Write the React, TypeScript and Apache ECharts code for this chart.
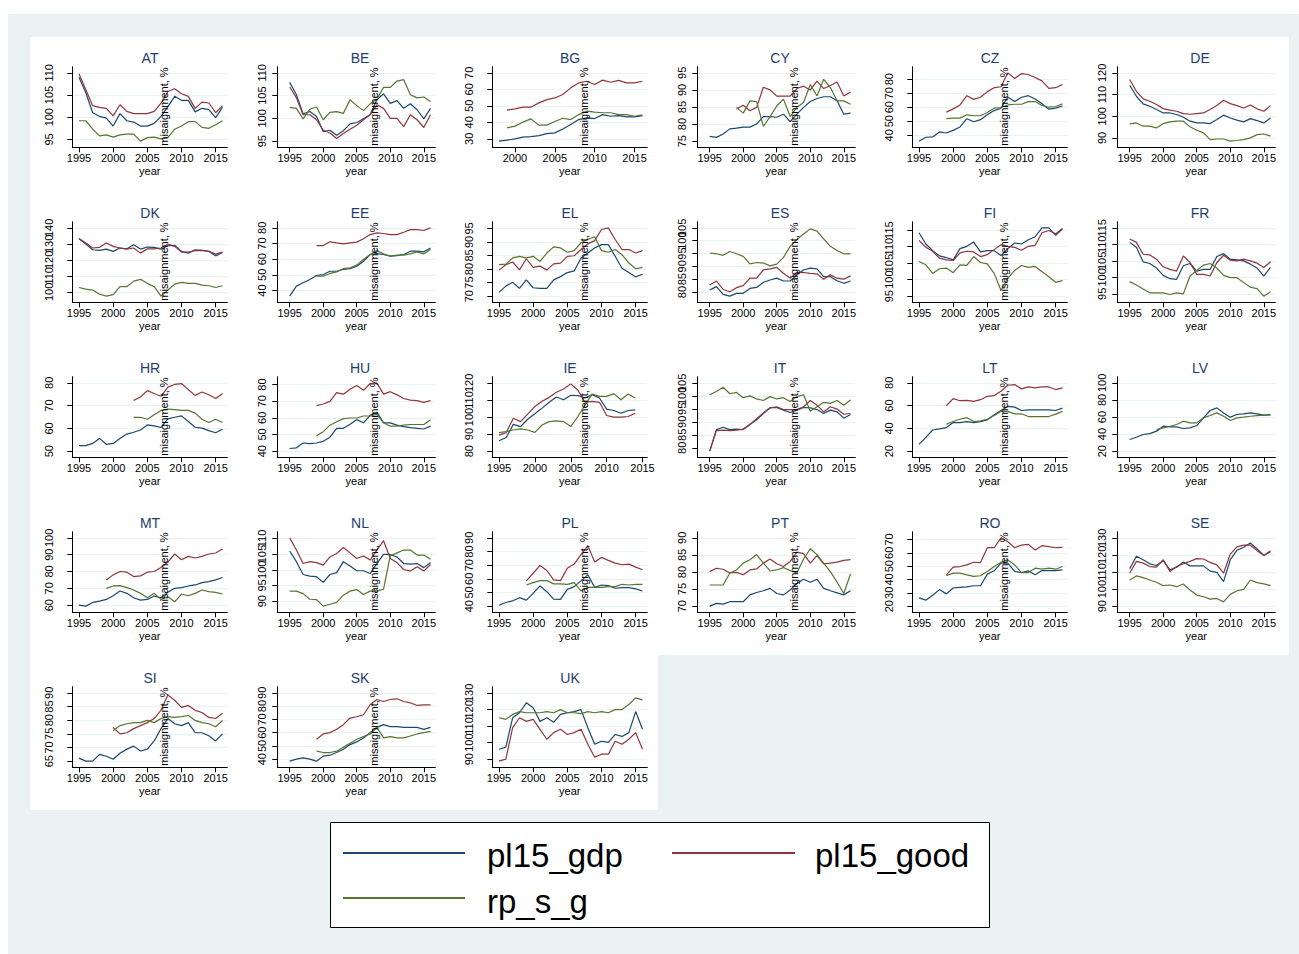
import React, { useEffect, useRef } from "react";
import * as echarts from "echarts";

const YEARS = [1995, 1996, 1997, 1998, 1999, 2000, 2001, 2002, 2003, 2004, 2005, 2006, 2007, 2008, 2009, 2010, 2011, 2012, 2013, 2014, 2015, 2016];
const X_TICKS = [1995, 2000, 2005, 2010, 2015];
const X_TICKS_BG = [2000, 2005, 2010, 2015];
const LEGEND_LABELS = ["pl15_gdp", "pl15_good", "rp_s_g"];
const MISALIGN_TEXT = "misaignment, %";
const MISALIGN_SHOWN = ["AT", "BE", "BG", "CY", "CZ", "DK", "EE", "EL", "ES", "FI", "HR", "HU", "IE", "IT", "LT", "MT", "NL", "PL", "PT", "RO", "SI", "SK"];

const AT_gdp = [109, 105.5, 101, 100.2, 99.8, 98, 100.8, 99.2, 98.9, 98, 98, 98.6, 100.2, 102.4, 104.7, 103.8, 103.8, 101.2, 102, 101.7, 99.9, 102.2];
const AT_good = [109.8, 106.2, 102.6, 102.2, 102, 100.3, 102.8, 101.3, 100.8, 100.8, 100.8, 101.3, 103.2, 105.8, 106.4, 105.3, 104.7, 102, 103.4, 103.2, 101, 102.6];
const AT_rpsg = [99.2, 99.2, 97.3, 95.8, 96, 95.5, 96, 96.2, 96.2, 94.6, 95.4, 95.5, 95.1, 95.4, 97.3, 98, 99, 99, 97.7, 97.5, 98.3, 99.2];
const AT_yt = [95, 100, 105, 110];

const BE_gdp = [107.9, 105.2, 101, 101.5, 100.4, 97.1, 97.4, 96.3, 97.3, 98.8, 99.1, 99.9, 100.8, 104.1, 105.4, 103.3, 103.9, 102.2, 103.2, 101.9, 99.9, 102.2];
const BE_good = [106.9, 104.5, 100.8, 100.8, 99.7, 97.4, 96.8, 95.6, 96.7, 97.6, 98.5, 99.7, 100.8, 103, 102.2, 100, 100, 98.2, 100.8, 99.7, 98, 100.8];
const BE_rpsg = [102.4, 102.2, 99.9, 102, 102.5, 99.7, 101.3, 101.5, 101.1, 104.1, 102.8, 101.7, 103.2, 104.2, 106.8, 106.8, 108.2, 108.5, 105.2, 104.5, 104.7, 103.7];
const BE_yt = [95, 100, 105, 110];

const BG_gdp = [null, null, null, 28.6, 29.2, 30, 31, 31.4, 32, 33.2, 33.6, 36, 38.7, 41.7, 42.7, 42.3, 44.7, 43.7, 44.1, 43.3, 43.3, 44.1];
const BG_good = [null, null, null, null, 47.4, 48.2, 49.2, 49.2, 51.8, 53.8, 54.8, 56.9, 60.9, 63.9, 64.9, 62.9, 65.6, 64.3, 65.4, 63.9, 63.9, 64.9];
const BG_rpsg = [null, null, null, null, 36.7, 37.7, 40.1, 42.1, 38.3, 38.3, 40.5, 42.5, 41.7, 44.7, 46.8, 46.2, 45.8, 45.8, 44.7, 44.7, 43.7, 44.5];
const BG_yt = [30, 40, 50, 60, 70];

const CY_gdp = [76.4, 76.1, 77.1, 78.6, 78.8, 79.1, 79.1, 80, 82.2, 82.2, 82, 82.9, 80.7, 82.9, 84.9, 86.6, 87.5, 88, 88, 86.8, 82.9, 83.2];
const CY_good = [null, null, null, null, 84.4, 85.5, 83.9, 84.9, 90.8, 90, 88.2, 88.2, 88.2, 90.4, 91.1, 90, 92.6, 90.4, 91.3, 92.3, 88.2, 89.4];
const CY_rpsg = [null, null, null, null, 84.9, 83.2, 86.8, 86.6, 79.3, 82.2, 85.3, 87.3, 82.2, 84.9, 86.3, 91.6, 88.2, 93.1, 90.7, 86.8, 86.8, 85.8];
const CY_yt = [75, 80, 85, 90, 95];

const CZ_gdp = [35.8, 38.6, 38.8, 42.4, 41.6, 43.5, 45.9, 51.8, 49.6, 51.1, 54.6, 57.6, 59.3, 67.1, 64, 67.1, 68.2, 65.9, 62.4, 58.6, 59.3, 60.9];
const CZ_good = [null, null, null, null, 56.5, 58.8, 61.6, 68.2, 65.6, 67.1, 71.1, 73.9, 74.6, 84.5, 80.5, 84, 83.3, 81.2, 78.8, 73.4, 73.9, 76.2];
const CZ_rpsg = [null, null, null, null, 51.8, 52.2, 52.2, 54.6, 53.9, 53.9, 56.2, 59.3, 59.8, 61.6, 62.1, 62.1, 64, 64, 61.2, 60, 60.5, 62.4];
const CZ_yt = [40, 50, 60, 70, 80];

const DE_gdp = [114.3, 109.2, 105.7, 104.6, 103.1, 101.5, 101.5, 100.8, 99.5, 97.7, 96.9, 96.9, 96.6, 98.5, 100.5, 99.2, 98.2, 97.4, 98.9, 98, 96.9, 99.2];
const DE_good = [116.9, 111.5, 108, 106.9, 105.4, 103.5, 102.8, 102.3, 101.2, 100.9, 101.2, 101.5, 103.1, 104.9, 107.4, 105.8, 104.9, 103.8, 105.2, 103.4, 102.3, 104.9];
const DE_rpsg = [96.5, 96.9, 95.4, 95.4, 94.6, 96.6, 97.4, 97.7, 97.7, 95.1, 93.5, 92.3, 89.2, 89.5, 89.5, 88.5, 88.8, 89.2, 90, 91.5, 91.8, 90.8];
const DE_yt = [90, 100, 110, 120];

const DK_gdp = [133.1, 129.9, 126.3, 125.9, 126.7, 125.3, 127.4, 126.9, 129.5, 126.7, 128, 127.8, 126.7, 128.8, 129.1, 125.3, 124.2, 126.3, 125.9, 125.3, 122.5, 124.6];
const DK_good = [133.3, 130.5, 127.4, 127.8, 130.5, 128.4, 127.4, 126.7, 127.4, 124.2, 126.9, 126.9, 127.4, 129.9, 128.4, 124.8, 124.8, 125.7, 125.9, 125.3, 123.6, 124.8];
const DK_rpsg = [102.7, 101.7, 101.1, 98.5, 97.3, 98.3, 103.2, 103.2, 106.7, 107.8, 105.3, 103.2, 97.3, 101.1, 104.8, 105.9, 105.3, 105.3, 104.2, 103.8, 102.7, 103.8];
const DK_yt = [100, 110, 120, 130, 140];

const EE_gdp = [36.4, 42.8, 44.9, 47, 49.6, 50.2, 52.3, 52.3, 53.4, 54, 55.5, 58.7, 63, 63.6, 63, 61.9, 62.3, 63, 65.1, 65.1, 64.7, 67.2];
const EE_good = [null, null, null, null, 68.7, 68.7, 71.1, 70.4, 69.8, 70.4, 70.9, 73, 75.7, 76.8, 76.4, 75.7, 75.7, 77.2, 78.9, 78.9, 78.3, 80];
const EE_rpsg = [null, null, null, null, 49.1, 49.1, 50.9, 51.9, 54, 54.5, 56.2, 59.8, 63, 65.5, 63.4, 61.9, 62.6, 62.6, 63.4, 64.7, 63.4, 66.2];
const EE_yt = [40, 50, 60, 70, 80];

const EL_gdp = [71.4, 73.7, 75.1, 72.9, 76, 73.1, 72.9, 72.9, 76, 77.2, 78.7, 79.3, 84.1, 85.9, 87.8, 89, 89, 84.7, 80.3, 78.7, 77.1, 78.1];
const EL_good = [79.6, 81.6, 82.6, 79.7, 83.8, 80.6, 81.1, 79.6, 81.9, 82.2, 84.7, 84.9, 87.2, 89.3, 90.5, 94.6, 95.2, 90.9, 87.2, 87.2, 85.9, 86.8];
const EL_rpsg = [81.6, 81.8, 84.1, 84.7, 84.1, 84.7, 82.8, 85.9, 88.2, 87.8, 86.2, 86.8, 89.7, 90.9, 91.9, 86.8, 86.2, 87.2, 85.3, 82.2, 80.1, 80.6];
const EL_yt = [70, 75, 80, 85, 90, 95];

const ES_gdp = [80.8, 82.1, 79.1, 78.4, 79.5, 79.5, 81.4, 81.8, 83.8, 84.7, 85.4, 84.3, 84.3, 86.7, 88.6, 89.3, 89, 86, 86, 84.4, 83.4, 84.3];
const ES_good = [82.7, 84.3, 81, 80.1, 81.7, 82.5, 85.4, 85.4, 88.6, 89, 89.6, 87.3, 85.4, 87.7, 87.6, 87.3, 87.1, 85, 86.7, 85.4, 85, 86.3];
const ES_rpsg = [95.2, 94.9, 94.3, 95.8, 94.9, 93.9, 91, 91.5, 91.3, 90.2, 90.9, 93.5, 97.8, 100.4, 102.6, 104.6, 103.7, 100.7, 97.8, 96.2, 94.9, 94.9];
const ES_yt = [80, 85, 90, 95, 100, 105];

const FI_gdp = [114.2, 110.8, 108.8, 107.2, 106.7, 106, 109.4, 110.1, 111.4, 108.4, 108.8, 108.8, 107.3, 109.4, 111.1, 110.8, 112.1, 113, 115.7, 115.7, 113.4, 115.4];
const FI_good = [111.9, 109.8, 108.6, 106.5, 106, 105.8, 108.1, 108.6, 108.4, 107, 107.6, 109.1, 110.6, 110.1, 109.8, 108.9, 110.1, 110.4, 114.2, 114.9, 113.9, 115.5];
const FI_rpsg = [105.5, 104.5, 101.9, 103.3, 103.5, 102.1, 104.5, 104.3, 107, 105.2, 104.8, 101.9, 96.8, 100.4, 102.8, 104.3, 103.7, 104, 102.4, 100.9, 99.2, 99.7];
const FI_yt = [95, 100, 105, 110, 115];

const FR_gdp = [110.6, 109.1, 104.7, 104.2, 102.8, 100.6, 99.6, 99.4, 103.5, 104.2, 101.9, 102.4, 102.4, 106.3, 107.2, 105.5, 105.3, 105, 104, 102.8, 100.4, 103];
const FR_good = [111.6, 110.6, 107, 106.8, 105.5, 103.2, 102.4, 101.9, 106.5, 104.5, 100.9, 100.9, 100.4, 104.5, 106.7, 105.2, 105, 105.5, 105, 104.3, 103, 104.7];
const FR_rpsg = [98.7, 97.7, 96.5, 95.3, 95.3, 95.3, 94.8, 95.3, 95, 100.4, 102.1, 103.7, 104.2, 102.8, 100.6, 99.9, 99.9, 98.4, 97, 96.6, 94.3, 95.6];
const FR_yt = [95, 100, 105, 110, 115];

const HR_gdp = [52.4, 52.4, 53.4, 55.6, 53, 53.4, 55.6, 57.5, 58.3, 59.3, 61.5, 61.1, 60.4, 64.2, 64.9, 65.5, 63, 60.5, 60.1, 59, 58.1, 59.6];
const HR_good = [null, null, null, null, null, null, null, null, 72.3, 73.8, 76.6, 75.3, 74.1, 78.1, 79.3, 79.7, 77, 74.5, 76, 74.8, 73.1, 75.3];
const HR_rpsg = [null, null, null, null, null, null, null, null, 64.8, 64.9, 64, 66, 67.9, 68.5, 68.2, 67.9, 67.9, 66.7, 64, 62.6, 64, 62.6];
const HR_yt = [50, 60, 70, 80];

const HU_gdp = [41.6, 42, 44.9, 44.5, 44.9, 45.9, 48.4, 53.7, 53.7, 56.2, 58.9, 57, 61.5, 63.4, 57, 57, 55.6, 54.7, 54.1, 53.7, 53.3, 55];
const HU_good = [null, null, null, null, 67.3, 68.3, 69.9, 75.1, 74.2, 77.1, 79.4, 76.5, 80.6, 81, 74.2, 75.7, 73.8, 71.6, 70.6, 70.3, 69.3, 70.3];
const HU_rpsg = [null, null, null, null, 49.2, 51.7, 55.6, 57.6, 59.5, 59.9, 59.9, 61.1, 61.1, 62.1, 57, 55, 55, 55.6, 56, 56, 56, 58.9];
const HU_yt = [40, 50, 60, 70, 80];

const IE_gdp = [86.1, 88, 95.7, 94.4, 98.7, 101.9, 105.2, 108.6, 111.7, 110.1, 112.7, 112.5, 111.1, 113.1, 111.1, 104.6, 103.8, 102.2, 103.8, 104.2, null, null];
const IE_good = [89.4, 90.8, 99.3, 97.3, 101.7, 106.2, 109.2, 111.5, 114.5, 116.4, 119.4, 115.7, 108.6, 109.2, 108.6, 100.9, 99.9, 99.9, 100.3, 102.2, null, null];
const IE_rpsg = [90.8, 91.4, 92.4, 93, 92.4, 91, 95.3, 97.3, 97.7, 97.3, 94.4, 100.3, 107.2, 113.5, 112.1, 112.1, 113.7, 110.1, 113.5, 111.1, null, null];
const IE_yt = [80, 90, 100, 110, 120];

const IT_gdp = [78.7, 87, 87.9, 87, 87.2, 87, 89, 90.8, 93.2, 95.4, 95.5, 94.5, 93.6, 94.5, 95.5, 95.4, 94.7, 93.2, 94.5, 93.8, 91.4, 92.8];
const IT_good = [78.7, 86.6, 86.8, 86.6, 86.8, 87.2, 89, 91.2, 93.4, 95.4, 95.8, 94.7, 94.7, 94.7, 95.8, 98.2, 96.4, 93.8, 95.8, 94.9, 92.9, 93.2];
const IT_rpsg = [100.4, 101.7, 103.3, 100.8, 101.3, 99.3, 100, 98.8, 98.2, 99.7, 98.8, 99.3, 97.8, 99.7, 100.4, 94.1, 95.8, 97.5, 97.1, 98.2, 96.4, 98.4];
const IT_yt = [80, 85, 90, 95, 100, 105];

const LT_gdp = [25.9, 32.1, 38.6, 39.5, 40.7, 45.1, 45.1, 46, 45.1, 46, 47.5, 51.9, 55.7, 59.3, 58.7, 55.7, 56.3, 56.3, 56.3, 56.3, 55.7, 57.8];
const LT_good = [null, null, null, null, 59.9, 66.1, 64.3, 64.6, 63.7, 65.2, 68.2, 68.8, 72.6, 77.9, 78.5, 74.7, 76.4, 75.6, 76.4, 76.4, 74.1, 75.6];
const LT_rpsg = [null, null, null, null, 43.6, 46, 48, 49.5, 46, 46.6, 48, 51.3, 54.9, 54.9, 52.8, 52.8, 50.4, 50.4, 50.4, 50.4, 52.5, 54.9];
const LT_yt = [20, 40, 60, 80];

const LV_gdp = [33.6, 36.3, 39.5, 40.6, 43.4, 49.2, 48.4, 48.4, 46.5, 47.3, 50, 59, 67.6, 70.7, 64.8, 59.8, 62.9, 63.7, 64.8, 63.7, 62.1, 62.9];
const LV_good: (number | null)[] = [];
const LV_rpsg = [null, null, null, null, 45.3, 47.3, 49.2, 51.2, 55.1, 53.1, 53.1, 59, 61.7, 64.8, 60.9, 55.9, 59, 59.8, 60.9, 61.7, 62.1, 62.1];
const LV_yt = [20, 40, 60, 80, 100];

const MT_gdp = [60, 59.4, 61.6, 62.4, 63.4, 65.6, 68.4, 67, 64.4, 63, 63.4, 65.4, 64.4, 67.6, 70, 70.4, 71.4, 72, 73.4, 74, 75, 76.4];
const MT_good = [null, null, null, null, 75, 78, 80, 79.6, 77, 77.4, 79.6, 80, 82.4, 85.6, 90.4, 87, 89, 88, 89, 90.4, 91, 93.4];
const MT_rpsg = [null, null, null, null, 70, 71.4, 71.6, 70.4, 69, 67, 64.4, 67, 63.4, 65, 62, 66.6, 65.6, 67, 69, 68, 67.6, 66.6];
const MT_yt = [60, 70, 80, 90, 100];

const NL_gdp = [106, 102.6, 98.5, 98, 97.8, 96, 98.5, 99.1, 102.6, 101.2, 99.7, 99.7, 98.8, 102, 104.9, 104.9, 104.1, 102, 101.8, 102, 100.7, 102.3];
const NL_good = [110.2, 106.3, 102, 102.6, 102.3, 101.5, 104.1, 105.2, 107.1, 105.4, 103.6, 104.4, 103.1, 106.3, 109.3, 103.6, 102.3, 100.1, 99.6, 101, 99.6, 101.7];
const NL_rpsg = [93.2, 93.2, 92.4, 90.6, 90.5, 88.4, 89, 89.6, 91.9, 93.2, 93.7, 92.1, 93.2, 93.2, 93.8, 104.5, 105.4, 106.3, 106.3, 104.7, 104.7, 103.4];
const NL_yt = [90, 95, 100, 105, 110];

const PL_gdp = [40.7, 42.7, 43.9, 46.2, 44.4, 49.4, 54.8, 50.6, 45.2, 44.9, 52.3, 54.3, 58.5, 62.9, 53.8, 55.5, 55, 53.1, 53.5, 53.5, 52.6, 51.1];
const PL_good = [null, null, null, null, 58.5, 64.1, 69.8, 66.1, 59.2, 58.7, 67.8, 70.8, 77.7, 84.3, 72.3, 75.7, 73.5, 71.5, 70.3, 70.8, 68.6, 66.6];
const PL_rpsg = [null, null, null, null, 55.5, 57.2, 58.7, 58.7, 56.3, 56.3, 56, 57.2, 51.1, 53.8, 53.8, 53.8, 54.3, 54.3, 56, 55.5, 56, 56];
const PL_yt = [40, 50, 60, 70, 80, 90];

const PT_gdp = [70, 70.8, 70.6, 71.3, 71.3, 71.3, 73.3, 74, 74.5, 75.2, 73.7, 73.3, 74.7, 76.7, 77.9, 77, 77.9, 75.2, 74.5, 73.9, 73.3, 74.5];
const PT_good = [80.1, 81.1, 80.8, 79.7, 79.9, 79.2, 80.6, 80.9, 82.6, 83.8, 82.4, 81.6, 83.1, 85.8, 85.4, 82.6, 84.8, 82.4, 82.6, 82.9, 83.4, 83.6];
const PT_rpsg = [76.2, 76.2, 76.2, 79.7, 80.6, 82.6, 83.6, 85.1, 82.6, 80.3, 80.6, 81.3, 80.4, 79.7, 83.8, 86.8, 85.1, 82.6, 80.1, 77, 73.7, 79.4];
const PT_yt = [70, 75, 80, 85, 90];

const RO_gdp = [26.2, 24.5, 28.2, 32.4, 29.2, 33.6, 34.1, 34.4, 35.3, 35.3, 44, 46.5, 52.2, 52.2, 46, 45.2, 46.5, 43.5, 46.7, 46.7, 46.7, 47.2];
const RO_good = [null, null, null, null, 43.5, 49.2, 49.7, 50.9, 52.9, 52.7, 63.8, 63.8, 71.2, 68.3, 63.8, 65.8, 66.3, 62.1, 65.3, 64.6, 63.8, 64.1];
const RO_rpsg = [null, null, null, null, 42.8, 44.8, 44.8, 43.5, 42.3, 42.8, 46, 49.7, 52.9, 54.7, 50.9, 45.2, 45.2, 48.5, 47.7, 48.5, 47.7, 49.7];
const RO_yt = [20, 30, 40, 50, 60, 70];

const SE_gdp = [111.9, 119.2, 117.2, 114.8, 113.8, 116.6, 111.3, 112.8, 115.8, 113.6, 113.6, 113.6, 110.5, 109.8, 104.4, 117.2, 122.7, 124.5, 127, 123.5, 119.7, 121.7];
const SE_good = [109.3, 116.2, 115.2, 113.2, 112.8, 117.2, 110.3, 113.2, 114.8, 116.2, 117.8, 117.6, 115.6, 114.2, 109.3, 120.5, 124.7, 125.7, 125.7, 122.5, 119.7, 122.5];
const SE_rpsg = [105.3, 107.7, 106.7, 105.3, 104, 102, 102.4, 101.4, 103, 99.4, 96.5, 95.5, 94.1, 94.5, 92.5, 96.9, 99, 99.8, 105.3, 103.8, 103, 102];
const SE_yt = [90, 100, 110, 120, 130];

const SI_gdp = [66.1, 65, 65, 67.5, 66.8, 65.7, 67.9, 69.4, 70.5, 68.7, 69.4, 72.4, 76.9, 80.6, 78.7, 78, 79.1, 75.4, 75.4, 74.3, 72.4, 75];
const SI_good = [null, null, null, null, null, 77.3, 75, 75.4, 76.9, 78, 79.1, 80.6, 83.6, 89.2, 87.3, 84.7, 85.4, 83.6, 82.8, 81, 80.6, 82.5];
const SI_rpsg = [null, null, null, null, null, 76.1, 78, 78.7, 79.1, 79.1, 79.9, 79.1, 80.6, 81.3, 81, 81.3, 81.7, 79.9, 79.1, 78.7, 77.6, 79.9];
const SI_yt = [65, 70, 75, 80, 85, 90];

const SK_gdp = [38.5, 40, 41, 40, 38.5, 42.3, 43, 45, 47.5, 51, 53, 56, 60, 64, 66, 64.5, 64.5, 64, 64, 64, 62.5, 64];
const SK_good = [null, null, null, null, 55, 59, 60, 62.5, 66, 71, 72, 73.5, 81, 85, 83.5, 85, 85.5, 83.5, 82.5, 80.5, 81, 81];
const SK_rpsg = [null, null, null, null, 46, 45, 45, 46, 49, 52, 55, 57, 59, 64, 56, 57, 56, 56, 57.5, 59, 60, 61];
const SK_yt = [40, 50, 60, 70, 80, 90];

const UK_gdp = [96, 97.2, 115, 118, 124, 121, 112.8, 115, 112.2, 117, 118, 118.7, 119.9, 109, 99, 100.8, 100.1, 104.9, 103.7, 106, 118.7, 108];
const UK_good = [88.8, 90, 109, 115, 112.8, 114, 108, 102, 106, 108, 104.9, 106, 108, 99, 91.2, 93, 93, 100.8, 99, 102, 106, 96];
const UK_rpsg = [115, 114, 117, 118.7, 118, 118, 118, 118.7, 118, 119.9, 118, 118, 117.5, 118.7, 118, 118.7, 118, 119.9, 119.9, 123, 127, 125.8];
const UK_yt = [90, 100, 110, 120, 130];

type Arr = (number | null)[];
interface Panel { code: string; gdp: Arr; good: Arr; rpsg: Arr; yt: number[]; xt: number[] }

const PANELS: Panel[] = [
  { code: "AT", gdp: AT_gdp, good: AT_good, rpsg: AT_rpsg, yt: AT_yt, xt: X_TICKS },
  { code: "BE", gdp: BE_gdp, good: BE_good, rpsg: BE_rpsg, yt: BE_yt, xt: X_TICKS },
  { code: "BG", gdp: BG_gdp, good: BG_good, rpsg: BG_rpsg, yt: BG_yt, xt: X_TICKS_BG },
  { code: "CY", gdp: CY_gdp, good: CY_good, rpsg: CY_rpsg, yt: CY_yt, xt: X_TICKS },
  { code: "CZ", gdp: CZ_gdp, good: CZ_good, rpsg: CZ_rpsg, yt: CZ_yt, xt: X_TICKS },
  { code: "DE", gdp: DE_gdp, good: DE_good, rpsg: DE_rpsg, yt: DE_yt, xt: X_TICKS },
  { code: "DK", gdp: DK_gdp, good: DK_good, rpsg: DK_rpsg, yt: DK_yt, xt: X_TICKS },
  { code: "EE", gdp: EE_gdp, good: EE_good, rpsg: EE_rpsg, yt: EE_yt, xt: X_TICKS },
  { code: "EL", gdp: EL_gdp, good: EL_good, rpsg: EL_rpsg, yt: EL_yt, xt: X_TICKS },
  { code: "ES", gdp: ES_gdp, good: ES_good, rpsg: ES_rpsg, yt: ES_yt, xt: X_TICKS },
  { code: "FI", gdp: FI_gdp, good: FI_good, rpsg: FI_rpsg, yt: FI_yt, xt: X_TICKS },
  { code: "FR", gdp: FR_gdp, good: FR_good, rpsg: FR_rpsg, yt: FR_yt, xt: X_TICKS },
  { code: "HR", gdp: HR_gdp, good: HR_good, rpsg: HR_rpsg, yt: HR_yt, xt: X_TICKS },
  { code: "HU", gdp: HU_gdp, good: HU_good, rpsg: HU_rpsg, yt: HU_yt, xt: X_TICKS },
  { code: "IE", gdp: IE_gdp, good: IE_good, rpsg: IE_rpsg, yt: IE_yt, xt: X_TICKS },
  { code: "IT", gdp: IT_gdp, good: IT_good, rpsg: IT_rpsg, yt: IT_yt, xt: X_TICKS },
  { code: "LT", gdp: LT_gdp, good: LT_good, rpsg: LT_rpsg, yt: LT_yt, xt: X_TICKS },
  { code: "LV", gdp: LV_gdp, good: LV_good, rpsg: LV_rpsg, yt: LV_yt, xt: X_TICKS },
  { code: "MT", gdp: MT_gdp, good: MT_good, rpsg: MT_rpsg, yt: MT_yt, xt: X_TICKS },
  { code: "NL", gdp: NL_gdp, good: NL_good, rpsg: NL_rpsg, yt: NL_yt, xt: X_TICKS },
  { code: "PL", gdp: PL_gdp, good: PL_good, rpsg: PL_rpsg, yt: PL_yt, xt: X_TICKS },
  { code: "PT", gdp: PT_gdp, good: PT_good, rpsg: PT_rpsg, yt: PT_yt, xt: X_TICKS },
  { code: "RO", gdp: RO_gdp, good: RO_good, rpsg: RO_rpsg, yt: RO_yt, xt: X_TICKS },
  { code: "SE", gdp: SE_gdp, good: SE_good, rpsg: SE_rpsg, yt: SE_yt, xt: X_TICKS },
  { code: "SI", gdp: SI_gdp, good: SI_good, rpsg: SI_rpsg, yt: SI_yt, xt: X_TICKS },
  { code: "SK", gdp: SK_gdp, good: SK_good, rpsg: SK_rpsg, yt: SK_yt, xt: X_TICKS },
  { code: "UK", gdp: UK_gdp, good: UK_good, rpsg: UK_rpsg, yt: UK_yt, xt: X_TICKS },
];

const COLORS = ["#1a476f", "#90353b", "#55752f"];
const FONT = "'Liberation Sans', Arial, Helvetica, sans-serif";
const W = 1299;
const H = 954;

function layoutOf(i: number) {
  const c = i % 6;
  const r = Math.floor(i / 6);
  const even = c % 2 === 0;
  const cellX = 30 + 210 * c;
  return {
    even,
    cellX,
    plotLeft: cellX + (even ? 42.3 : 37.3),
    plotW: even ? 155 : 158,
    plotTop: 66.7 + 155 * r,
    plotH: 80.6,
    leftPad: even ? 6.7 : 12.4,
    rightPad: 4.8,
    labelMargin: even ? 18 : 10,
  };
}

function buildOption() {
  const grid: any[] = [];
  const xAxis: any[] = [];
  const yAxis: any[] = [];
  const series: any[] = [];
  const graphic: any[] = [
    { id: "bg0", type: "rect", z: -20, silent: true, shape: { x: 8, y: 14, width: W - 8, height: H - 14 }, style: { fill: "#eaf2f3" } },
    { id: "bg1", type: "rect", z: -19, silent: true, shape: { x: 30, y: 37, width: 1259, height: 618 }, style: { fill: "#ffffff" } },
    { id: "bg2", type: "rect", z: -19, silent: true, shape: { x: 30, y: 654, width: 628, height: 156 }, style: { fill: "#ffffff" } },
  ];

  PANELS.forEach((p, i) => {
    const L = layoutOf(i);
    const arrs = [p.gdp, p.good, p.rpsg];
    let first = Infinity, last = -Infinity, lo = Infinity, hi = -Infinity;
    arrs.forEach((a) => a.forEach((v, k) => {
      if (v == null) return;
      first = Math.min(first, YEARS[k]);
      last = Math.max(last, YEARS[k]);
      lo = Math.min(lo, v);
      hi = Math.max(hi, v);
    }));
    const xFirst = Math.min(first, p.xt[0]);
    const xLast = Math.max(last, p.xt[p.xt.length - 1]);
    const ppy = (L.plotW - L.leftPad - L.rightPad) / (xLast - xFirst);
    const xMin = xFirst - L.leftPad / ppy;
    const xMax = xLast + L.rightPad / ppy;
    lo = Math.min(lo, p.yt[0]);
    hi = Math.max(hi, p.yt[p.yt.length - 1]);
    const pad = (hi - lo) * 0.09;

    grid.push({ left: L.plotLeft, top: L.plotTop, width: L.plotW, height: L.plotH, containLabel: false, outerBoundsMode: "none" });
    xAxis.push({
      gridIndex: i, type: "value", min: xMin, max: xMax,
      axisLine: { show: true, onZero: false, lineStyle: { color: "#000", width: 1 } },
      axisTick: { show: true, length: 5, customValues: p.xt, lineStyle: { color: "#000", width: 1 } },
      axisLabel: { customValues: p.xt, showMinLabel: true, showMaxLabel: true, hideOverlap: false, formatter: (v: number) => String(v), fontSize: 11, color: "#000", margin: 5, fontFamily: FONT },
      splitLine: { show: false },
      name: "year", nameLocation: "middle", nameGap: 18.5, nameMoveOverlap: false,
      nameTextStyle: { fontSize: 11, color: "#000", fontFamily: FONT },
    });
    yAxis.push({
      gridIndex: i, type: "value", min: lo - pad, max: hi + pad,
      axisLine: { show: true, lineStyle: { color: "#000", width: 1 } },
      axisTick: { show: true, length: 5, customValues: p.yt, lineStyle: { color: "#000", width: 1 } },
      axisLabel: { show: false },
      splitLine: { show: true, lineStyle: { color: "#eaf2f3", width: 1 } },
    });
    arrs.forEach((a, s) => {
      const data = YEARS.map((y, k) => [y, a[k]]).filter((d) => d[1] != null);
      if (!data.length) return;
      series.push({
        type: "line", name: LEGEND_LABELS[s], xAxisIndex: i, yAxisIndex: i, data,
        symbol: "none", showSymbol: false, silent: true, z: 3,
        lineStyle: { color: COLORS[s], width: 1.2 }, itemStyle: { color: COLORS[s] },
      });
    });

    graphic.push({
      id: "title" + i, type: "text", x: L.cellX + 120, y: L.plotTop - 8.7, silent: true, z: 5,
      style: { text: p.code, fill: "#1f3c6e", fontSize: 14, fontFamily: FONT, align: "center", verticalAlign: "middle" },
    });
    if (MISALIGN_SHOWN.includes(p.code)) {
      graphic.push({
        id: "mis" + i, type: "text", x: L.cellX + 134.3, y: L.plotTop + L.plotH / 2 - 0.5, rotation: Math.PI / 2, silent: true, z: 6,
        style: { text: MISALIGN_TEXT, fill: "#000", fontSize: 11, fontFamily: FONT, align: "center", verticalAlign: "middle" },
      });
    }
  });

  graphic.push({ id: "lgbox", type: "rect", z: 5, silent: true, shape: { x: 330.5, y: 822.5, width: 659, height: 105 }, style: { fill: "#fff", stroke: "#000", lineWidth: 1 } });
  const legendItems = [
    { x1: 343, x2: 465, y: 853, tx: 487, ty: 855 },
    { x1: 672, x2: 795, y: 853, tx: 815, ty: 855 },
    { x1: 343, x2: 465, y: 898, tx: 487, ty: 901 },
  ];
  legendItems.forEach((it, s) => {
    graphic.push({ id: "lgl" + s, type: "line", z: 6, silent: true, shape: { x1: it.x1, y1: it.y, x2: it.x2, y2: it.y }, style: { stroke: COLORS[s], lineWidth: 2 } });
    graphic.push({ id: "lgt" + s, type: "text", z: 6, silent: true, x: it.tx, y: it.ty, style: { text: LEGEND_LABELS[s], fill: "#000", fontSize: 33, fontFamily: FONT, align: "left", verticalAlign: "middle" } });
  });

  return {
    animation: false,
    backgroundColor: "#ffffff",
    textStyle: { fontFamily: FONT },
    grid, xAxis, yAxis, series, graphic,
  };
}

export default function App() {
  const ref = useRef<HTMLDivElement>(null);
  useEffect(() => {
    if (!ref.current) return;
    const chart = echarts.init(ref.current, undefined, { renderer: "svg", width: W, height: H });
    const option = buildOption();
    chart.setOption(option as any);
    // y-axis tick labels, positioned through each panel's own y scale
    const labels: any[] = [];
    PANELS.forEach((p, i) => {
      const L = layoutOf(i);
      p.yt.forEach((v, k) => {
        const pt = chart.convertToPixel({ gridIndex: i } as any, [p.xt[0], v]) as number[];
        if (!pt) return;
        labels.push({
          id: "yl" + i + "_" + k, type: "text", x: L.plotLeft - L.labelMargin, y: pt[1], rotation: Math.PI / 2, silent: true, z: 5,
          style: { text: String(v), fill: "#000", fontSize: 11, fontFamily: FONT, align: "center", verticalAlign: "bottom" },
        });
      });
    });
    chart.setOption({ graphic: [...option.graphic, ...labels] } as any);
    return () => chart.dispose();
  }, []);
  return <div ref={ref} style={{ position: "absolute", left: 0, top: 0, width: W, height: H }} />;
}
